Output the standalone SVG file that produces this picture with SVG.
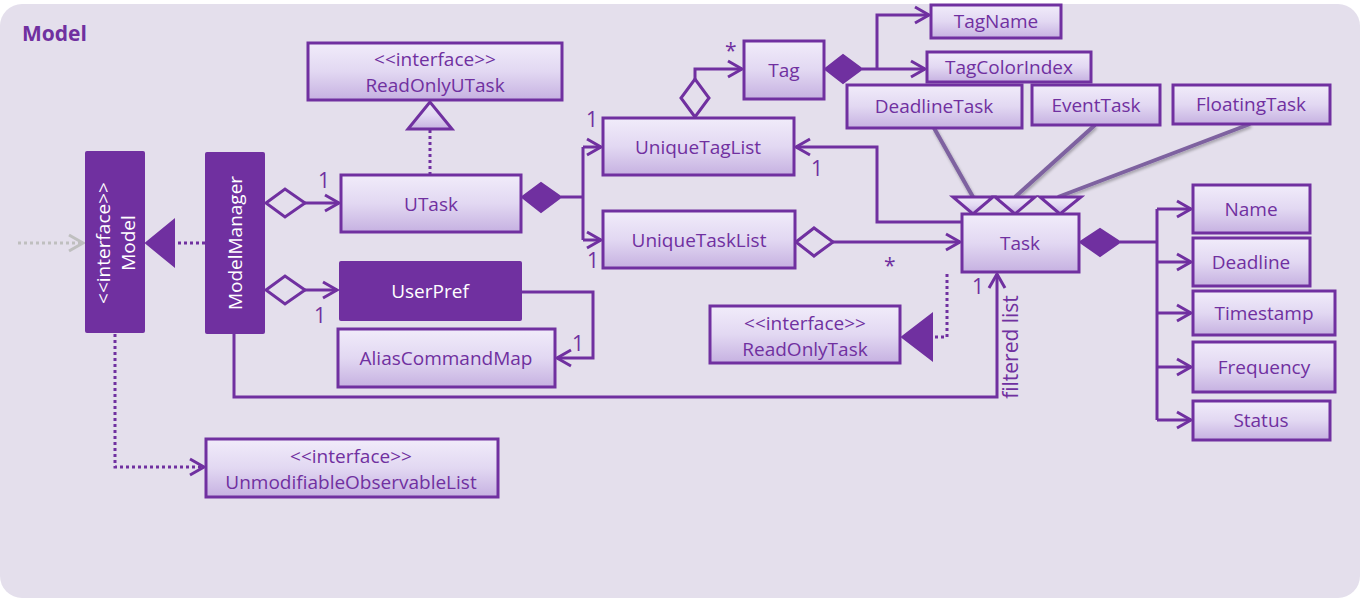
<svg xmlns="http://www.w3.org/2000/svg" width="1361" height="598" viewBox="0 0 1361 598">
<defs>
<linearGradient id="bx" x1="0" y1="0" x2="0" y2="1">
<stop offset="0" stop-color="#F1ECFA"/>
<stop offset="0.5" stop-color="#E2D8F2"/>
<stop offset="1" stop-color="#C6B1E1"/>
</linearGradient>
<marker id="arr" markerUnits="userSpaceOnUse" markerWidth="20" markerHeight="20" viewBox="-16 -10 20 20" refX="0" refY="0" orient="auto">
<path d="M-14,-8 L0,0 L-14,8" fill="none" stroke="#7030A0" stroke-width="3"/>
</marker>
<marker id="arrg" markerUnits="userSpaceOnUse" markerWidth="20" markerHeight="20" viewBox="-16 -10 20 20" refX="0" refY="0" orient="auto">
<path d="M-14,-8 L0,0 L-14,8" fill="none" stroke="#BFBFBF" stroke-width="3"/>
</marker>
<filter id="sh" x="-20%" y="-20%" width="140%" height="140%">
<feGaussianBlur in="SourceAlpha" stdDeviation="1.5"/>
<feOffset dx="1" dy="2" result="b"/>
<feComponentTransfer><feFuncA type="linear" slope="0.3"/></feComponentTransfer>
<feMerge><feMergeNode/><feMergeNode in="SourceGraphic"/></feMerge>
</filter>
</defs>
<style>
.bg{fill:#E4DFEC}
.box{fill:url(#bx);stroke:#7030A0;stroke-width:3}
.dark{fill:#7030A0}
.t{font-family:"Open Sans","Liberation Sans",sans-serif;font-size:19px;fill:#7030A0;text-anchor:middle;dominant-baseline:central}
.w{fill:#FFFFFF}
.lbl{font-family:"Open Sans","Liberation Sans",sans-serif;font-size:21px;fill:#7030A0}
.ln{fill:none;stroke:#7030A0;stroke-width:3}
.dot{fill:none;stroke:#7030A0;stroke-width:3;stroke-dasharray:3 3}
.fd{fill:#7030A0;stroke:#7030A0;stroke-width:2}
.hd{fill:#E4DFEC;stroke:#7030A0;stroke-width:3}
.tri{fill:url(#bx);stroke:#7030A0;stroke-width:3}
.gen{fill:none;stroke:#7E62A0;stroke-width:4}
</style>
<rect class="bg" x="0" y="4" width="1360" height="594" rx="22"/>
<text x="22" y="41" font-family="'Open Sans','Liberation Sans',sans-serif" font-size="21" font-weight="bold" fill="#7030A0">Model</text>

<g id="connectors">
<path d="M18,243 L83,243" fill="none" stroke="#BFBFBF" stroke-width="3" stroke-dasharray="3 3" marker-end="url(#arrg)"/>
<path class="dot" d="M205,243 L174,243"/>
<polygon class="fd" points="146,243 174,220 174,266"/>
<polygon class="hd" points="266,203 285,189 305,203 285,217"/>
<path class="ln" d="M305,203 L339,203" marker-end="url(#arr)"/>
<polygon class="hd" points="266,290 285,276 305,290 285,304"/>
<path class="ln" d="M305,290 L337,290" marker-end="url(#arr)"/>
<path class="dot" d="M430,175 L430,129"/>
<polygon class="tri" points="430,102 408,129 452,129"/>
<polygon class="fd" points="522,197 541,183 561,197 541,212"/>
<path class="ln" d="M561,197 L583,197 M583,147 L583,240"/>
<path class="ln" d="M583,147 L601,147" marker-end="url(#arr)"/>
<path class="ln" d="M583,240 L601,240" marker-end="url(#arr)"/>
<polygon class="hd" points="695,117 681,98 695,79 709,98"/>
<path class="ln" d="M695,79 L695,69 L742,69" marker-end="url(#arr)"/>
<polygon class="fd" points="825,69 843,55 862,69 843,83"/>
<path class="ln" d="M862,69 L925,69" marker-end="url(#arr)"/>
<path class="ln" d="M877,69 L877,15 L929,15" marker-end="url(#arr)"/>
<path class="ln" d="M962,222 L877,222 L877,147 L796,147" marker-end="url(#arr)"/>
<polygon class="hd" points="796,242 814,228 833,242 814,256"/>
<path class="ln" d="M833,242 L960,242" marker-end="url(#arr)"/>
<g filter="url(#sh)">
<path class="gen" d="M934,128 L973,197"/>
<path class="gen" d="M1095,125 L1015,197"/>
<path class="gen" d="M1250,124 L1058,197"/>
</g>
<polygon class="tri" points="953,197 993,197 973,214"/>
<polygon class="tri" points="995,197 1035,197 1015,214"/>
<polygon class="tri" points="1040,197 1081,197 1060,214"/>
<polygon class="fd" points="1080,242 1100,229 1120,242 1100,256"/>
<path class="ln" d="M1120,242 L1157,242 M1157,209 L1157,420"/>
<path class="ln" d="M1157,209 L1191,209" marker-end="url(#arr)"/>
<path class="ln" d="M1157,262 L1191,262" marker-end="url(#arr)"/>
<path class="ln" d="M1157,313 L1191,313" marker-end="url(#arr)"/>
<path class="ln" d="M1157,367 L1191,367" marker-end="url(#arr)"/>
<path class="ln" d="M1157,420 L1191,420" marker-end="url(#arr)"/>
<path class="ln" d="M234,334 L234,397 L997,397 L997,274" marker-end="url(#arr)"/>
<path class="dot" d="M947,274 L947,337 L932,337"/>
<polygon class="fd" points="902,337 932,314 932,360"/>
<path class="ln" d="M522,292 L593,292 L593,358 L557,358" marker-end="url(#arr)"/>
<path class="dot" d="M115,334 L115,467 L204,467" marker-end="url(#arr)"/>
<text class="lbl" x="318" y="188">1</text>
<text class="lbl" x="314" y="323">1</text>
<text class="lbl" x="586" y="127">1</text>
<text class="lbl" x="587" y="268">1</text>
<text class="lbl" x="725" y="58" font-size="17">*</text>
<text class="lbl" x="811" y="176">1</text>
<text class="lbl" x="884" y="273" font-size="17">*</text>
<text class="lbl" x="972" y="294">1</text>
<text class="lbl" x="572" y="351">1</text>
<text class="lbl" transform="translate(1018,347) rotate(-90)" text-anchor="middle">filtered list</text>
</g>

<g id="Model"><rect class="dark" x="85" y="151" width="60" height="182" rx="2"/>
<text class="t w" transform="translate(103,243) rotate(-90)">&lt;&lt;interface&gt;&gt;</text>
<text class="t w" transform="translate(128,243) rotate(-90)">Model</text></g>
<g id="ModelManager"><rect class="dark" x="205" y="152" width="60" height="182" rx="2"/>
<text class="t w" transform="translate(235,243) rotate(-90)">ModelManager</text></g>
<g id="ReadOnlyUTask"><rect class="box" x="308" y="43" width="254" height="57"/>
<text class="t" x="435" y="59">&lt;&lt;interface&gt;&gt;</text><text class="t" x="435" y="85">ReadOnlyUTask</text></g>
<g id="UTask"><rect class="box" x="341" y="175" width="180" height="57"/><text class="t" x="431" y="204">UTask</text></g>
<g id="UserPref"><rect class="dark" x="339" y="261" width="183" height="60" rx="2"/><text class="t w" x="430" y="291">UserPref</text></g>
<g id="AliasCommandMap"><rect class="box" x="338" y="329" width="217" height="58"/><text class="t" x="446" y="358">AliasCommandMap</text></g>
<g id="UnmodifiableObservableList"><rect class="box" x="206" y="439" width="292" height="58"/>
<text class="t" x="351" y="456">&lt;&lt;interface&gt;&gt;</text><text class="t" x="351" y="482">UnmodifiableObservableList</text></g>
<g id="UniqueTagList"><rect class="box" x="603" y="118" width="191" height="57"/><text class="t" x="698" y="147">UniqueTagList</text></g>
<g id="UniqueTaskList"><rect class="box" x="603" y="211" width="192" height="57"/><text class="t" x="699" y="240">UniqueTaskList</text></g>
<g id="Tag"><rect class="box" x="744" y="41" width="80" height="58"/><text class="t" x="784" y="70">Tag</text></g>
<g id="TagName"><rect class="box" x="931" y="5" width="130" height="33"/><text class="t" x="996" y="21">TagName</text></g>
<g id="TagColorIndex"><rect class="box" x="927" y="52" width="164" height="30"/><text class="t" x="1009" y="67">TagColorIndex</text></g>
<g id="DeadlineTask"><rect class="box" x="847" y="85" width="175" height="43"/><text class="t" x="934" y="106">DeadlineTask</text></g>
<g id="EventTask"><rect class="box" x="1032" y="85" width="128" height="40"/><text class="t" x="1096" y="105">EventTask</text></g>
<g id="FloatingTask"><rect class="box" x="1173" y="85" width="157" height="39"/><text class="t" x="1251" y="104">FloatingTask</text></g>
<g id="Task"><rect class="box" x="962" y="214" width="117" height="58"/><text class="t" x="1020" y="243">Task</text></g>
<g id="ReadOnlyTask"><rect class="box" x="710" y="306" width="190" height="57"/>
<text class="t" x="805" y="323">&lt;&lt;interface&gt;&gt;</text><text class="t" x="805" y="349">ReadOnlyTask</text></g>
<g id="Name"><rect class="box" x="1193" y="185" width="117" height="48"/><text class="t" x="1251" y="209">Name</text></g>
<g id="Deadline"><rect class="box" x="1193" y="238" width="117" height="48"/><text class="t" x="1251" y="262">Deadline</text></g>
<g id="Timestamp"><rect class="box" x="1193" y="291" width="142" height="44"/><text class="t" x="1264" y="313">Timestamp</text></g>
<g id="Frequency"><rect class="box" x="1193" y="342" width="142" height="50"/><text class="t" x="1264" y="367">Frequency</text></g>
<g id="Status"><rect class="box" x="1193" y="401" width="137" height="39"/><text class="t" x="1261" y="420">Status</text></g>
</svg>
